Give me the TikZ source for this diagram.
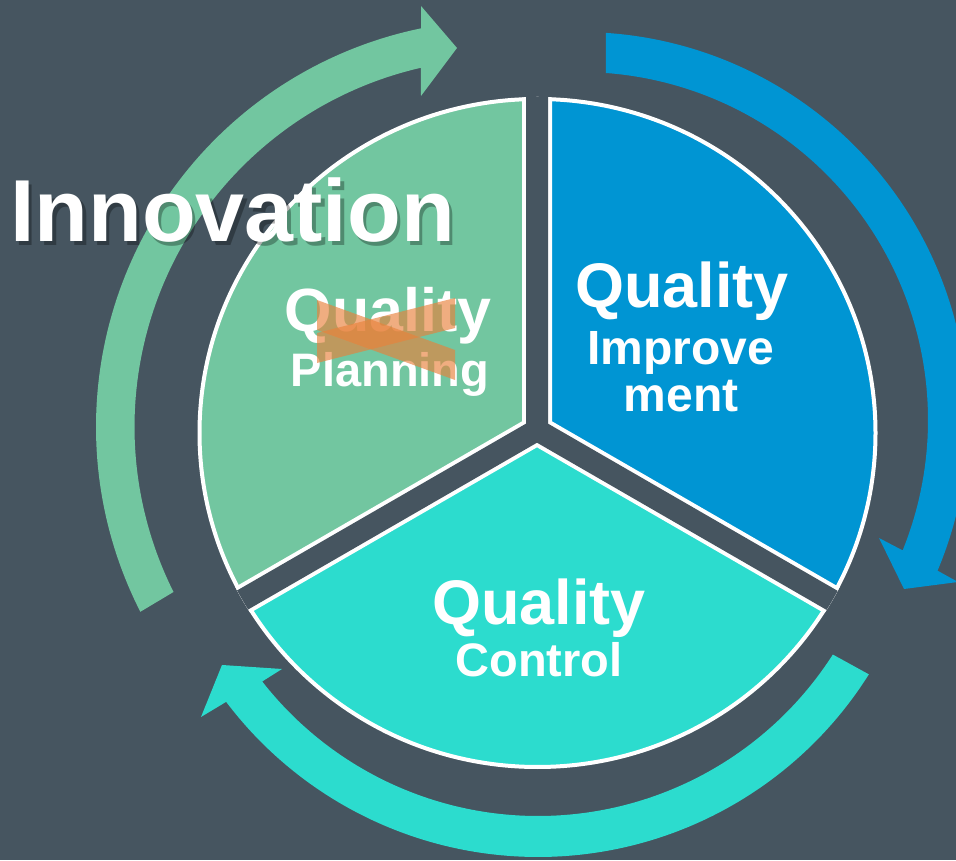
\documentclass[tikz,border=0pt]{standalone}
\usepackage{fontspec}
\setmainfont{Liberation Sans}
\usepackage{tikz}
\usetikzlibrary{calc}
\definecolor{slate}{RGB}{70,85,96}
\definecolor{planGreen}{RGB}{114,198,160}
\definecolor{improveBlue}{RGB}{0,149,211}
\definecolor{controlCyan}{RGB}{44,220,206}
\definecolor{crossOrange}{RGB}{232,130,60}

\begin{document}
\begin{tikzpicture}[line cap=round,line join=round,x=1pt,y=1pt,
    qtext/.style={text=white,font=\bfseries,inner sep=0pt,anchor=base}]
\useasboundingbox (0,0) rectangle (956,860);
\clip (0,0) rectangle (956,860);
\fill[slate] (0,0) rectangle (956,860);
\coordinate (gc) at (503,433);
\coordinate (bc) at (580,440);
\coordinate (cc) at (538,394);
\coordinate (pc) at (537.5,427);
\coordinate (jc) at (537,430);
% cycle arrows
\fill[planGreen] ([shift={(207:407)}]gc) arc[start angle=207,end angle=101.6,radius=407] -- (421,854) -- (457,812) -- (421,764) -- ([shift={(102.9:368.5)}]gc) arc[start angle=102.9,end angle=206.6,radius=368.5] -- cycle;
\fill[improveBlue] ([shift={(86.16:388)}]bc) arc[start angle=86.16,end angle=-22.85,radius=388] -- (958,278) -- (904,271) -- (879,322) -- ([shift={(-22:348)}]bc) arc[start angle=-22,end angle=85.72,radius=348] -- cycle;
\fill[controlCyan] ([shift={(-32.2:391)}]cc) arc[start angle=-32.2,end angle=-142.9,radius=391] -- (201,143) -- (222,195) -- (282,191) -- ([shift={(-142:350)}]cc) arc[start angle=-142,end angle=-32.6,radius=350] -- cycle;
% pie
\fill[planGreen] (pc) -- (537.5,761) arc[start angle=90,end angle=210,x radius=338,y radius=334] -- cycle;
\fill[improveBlue] (pc) -- (830.2,260) arc[start angle=-30,end angle=90,x radius=338,y radius=334] -- cycle;
\fill[controlCyan] (pc) -- (244.8,260) arc[start angle=210,end angle=330,x radius=338,y radius=334] -- cycle;
\draw[white,line width=4pt] (pc) ellipse[x radius=338,y radius=334];
\begin{scope}
\clip (pc) ellipse[x radius=340,y radius=336];
\draw[white,line width=30pt] (jc) -- (537,860) (jc) -- (104,180) (jc) -- (970,180);
\draw[slate,line width=22pt] (jc) -- (537,860) (jc) -- (104,180) (jc) -- (970,180);
\end{scope}
% labels
\node[qtext,font=\bfseries\fontsize{61}{61}\selectfont] (planq) at (388,528) {Quality};
\node[qtext,font=\bfseries\fontsize{47}{47}\selectfont] (plann) at (390,473) {Planning};
\node[qtext,font=\bfseries\fontsize{63}{63}\selectfont] (impq) at (682,552) {Quality};
\node[qtext,font=\bfseries\fontsize{48}{48}\selectfont] (impa) at (681,495) {Improve};
\node[qtext,font=\bfseries\fontsize{48}{48}\selectfont] (impb) at (681,448) {ment};
\node[qtext,font=\bfseries\fontsize{63}{63}\selectfont] (ctlq) at (539,235) {Quality};
\node[qtext,font=\bfseries\fontsize{47}{47}\selectfont] (ctlc) at (539,183) {Control};
% cross
\fill[crossOrange,opacity=0.65] (317,560) -- (455,510) -- (455,480) -- (317,530) -- cycle;
\fill[crossOrange,opacity=0.65] (317,497) -- (455,532) -- (455,562) -- (317,527) -- cycle;
% title
\node[qtext,text=black,opacity=0.3,font=\bfseries\fontsize{88}{88}\selectfont] (innovs) at (236,614) {Innovation};
\node[qtext,font=\bfseries\fontsize{88}{88}\selectfont] (innov) at (232.5,618) {Innovation};
\end{tikzpicture}
\end{document}
